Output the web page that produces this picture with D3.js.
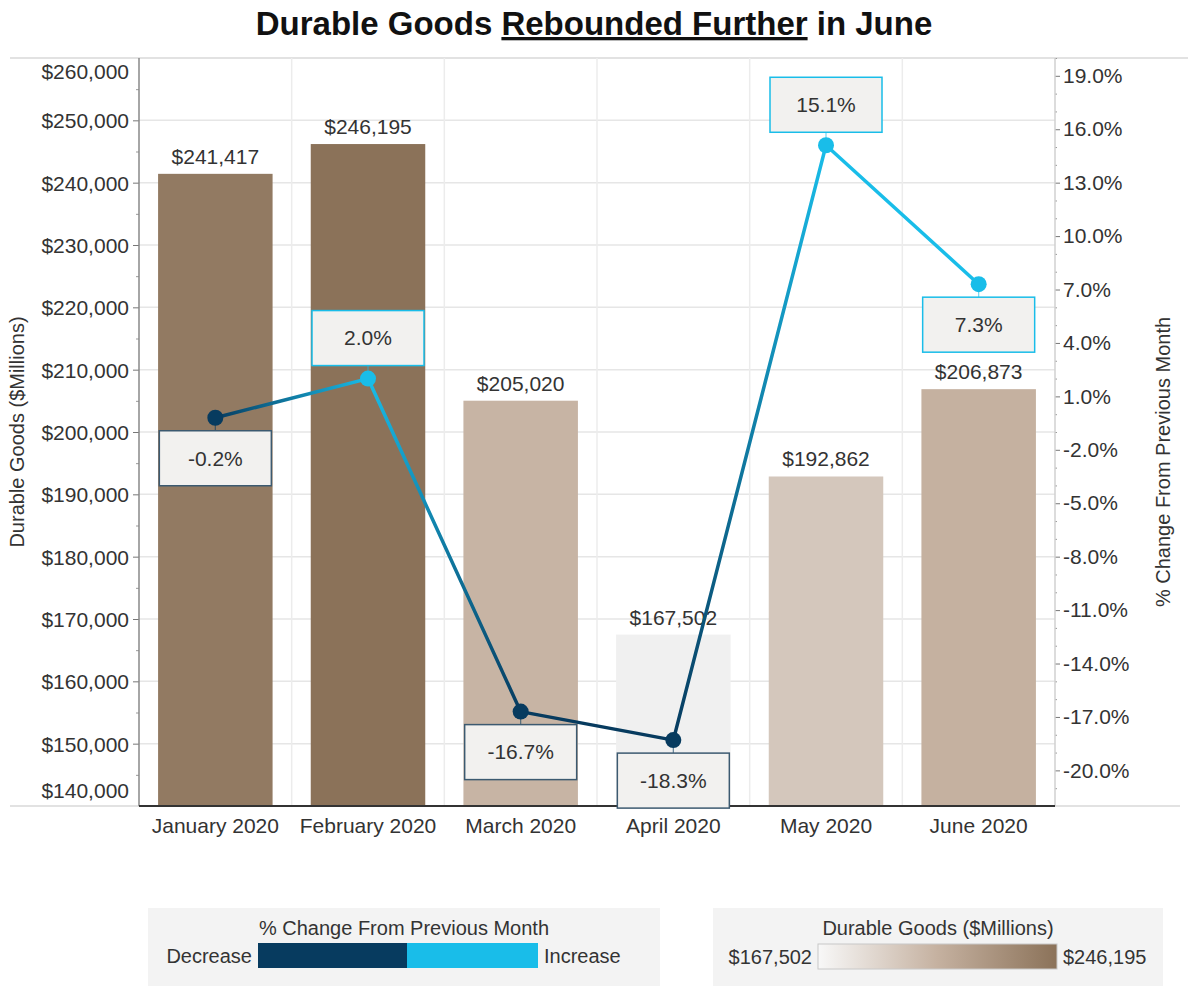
<!DOCTYPE html>
<html>
<head>
<meta charset="utf-8">
<script src="https://cdn.jsdelivr.net/npm/d3@7"></script>
<style>
  body { margin: 0; background: #fff; }
  svg { display: block; font-family: "Liberation Sans", Arial, sans-serif; }
  .tick text { fill: #333; font-size: 21px; }
</style>
</head>
<body>
<svg id="chart" width="1188" height="986"></svg>
<script>
// data
const months = ["January 2020", "February 2020", "March 2020", "April 2020", "May 2020", "June 2020"];
const goods = [241417, 246195, 205020, 167502, 192862, 206873];
const pctChange = [-0.2, 2.0, -16.7, -18.3, 15.1, 7.3];
const labelBelow = [true, false, true, true, false, true];
const leftTicks = d3.range(140000, 260001, 10000);
const rightTicks = d3.range(-20, 20, 3);

const svg = d3.select("#chart");
const pLeft = 139, pRight = 1055, pTop = 58, pBottom = 806;
const decColor = "#073b5f", incColor = "#19bde9";
const font = 21;

const x = d3.scaleBand().domain(months).range([pLeft, pRight]).paddingInner(0.25).paddingOuter(0.125);
const yL = d3.scaleLinear().domain([140000, 260000]).range([pBottom, pTop]);
const yR = d3.scaleLinear().domain([-22, 20]).range([pBottom, pTop]);
const gMin = d3.min(goods), gMax = d3.max(goods);
const color = d3.scaleLinear()
    .domain([gMin, (gMin + gMax) / 2, gMax])
    .range(["#f0f0f0", "#c5b1a0", "#8b7259"]);
const ptColor = v => v < 0 ? decColor : incColor;
const cx = i => x(months[i]) + x.bandwidth() / 2;

// title
const title = svg.append("text")
    .attr("x", 594).attr("y", 35)
    .attr("text-anchor", "middle")
    .style("font-size", "33px").style("font-weight", "bold").attr("fill", "#111");
title.append("tspan").text("Durable Goods ");
title.append("tspan").text("Rebounded Further").style("text-decoration", "underline");
title.append("tspan").text(" in June");

// frame lines
svg.append("line").attr("x1", 10).attr("x2", 1188).attr("y1", pTop).attr("y2", pTop)
    .attr("stroke", "#e2e2e2").attr("stroke-width", 2);
svg.append("line").attr("x1", 10).attr("x2", 1180).attr("y1", pBottom).attr("y2", pBottom)
    .attr("stroke", "#d8d8d8").attr("stroke-width", 1.5);

// gridlines
svg.append("g").selectAll("line").data(leftTicks.slice(1, -1)).join("line")
    .attr("x1", pLeft).attr("x2", pRight)
    .attr("y1", d => yL(d)).attr("y2", d => yL(d))
    .attr("stroke", "#e6e6e6").attr("stroke-width", 1.5);
svg.append("g").selectAll("line").data(months.slice(1)).join("line")
    .attr("x1", d => x(d) - x.step() * x.paddingInner() / 2)
    .attr("x2", d => x(d) - x.step() * x.paddingInner() / 2)
    .attr("y1", pTop).attr("y2", pBottom)
    .attr("stroke", "#ececec").attr("stroke-width", 1.5);

// bars
svg.append("g").selectAll("rect").data(goods).join("rect")
    .attr("x", (d, i) => x(months[i]))
    .attr("width", x.bandwidth())
    .attr("y", d => yL(d))
    .attr("height", d => pBottom - yL(d))
    .attr("fill", d => color(d));

svg.append("g").selectAll("text").data(goods).join("text")
    .attr("x", (d, i) => cx(i))
    .attr("y", d => yL(d) - 10)
    .attr("text-anchor", "middle")
    .style("font-size", font + "px").attr("fill", "#333")
    .text(d => "$" + d3.format(",")(d));

// left axis
const axL = svg.append("g").attr("transform", `translate(${pLeft},0)`)
    .call(d3.axisLeft(yL).tickValues(leftTicks).tickFormat(d => "$" + d3.format(",")(d)).tickSize(6).tickPadding(4));
axL.select(".domain").remove();
axL.selectAll(".tick line").attr("stroke", "#777");
axL.selectAll(".tick text").attr("dy", "0.35em");
axL.selectAll(".tick").filter(d => d === 260000).select("text").attr("y", 13);
axL.selectAll(".tick").filter(d => d === 260000 || d === 140000).select("line").remove();
axL.selectAll(".tick").filter(d => d === 140000).select("text").attr("y", -16);
svg.append("g").attr("transform", `translate(${pLeft},0)`)
    .call(d3.axisLeft(yL).tickValues(d3.range(145000, 260000, 10000)).tickFormat("").tickSize(3))
    .call(g => g.select(".domain").remove())
    .selectAll("line").attr("stroke", "#999");
svg.append("line").attr("x1", pLeft).attr("x2", pLeft).attr("y1", pTop).attr("y2", pBottom)
    .attr("stroke", "#888").attr("stroke-width", 1.5);

// right axis
const axR = svg.append("g").attr("transform", `translate(${pRight},0)`)
    .call(d3.axisRight(yR).tickValues(rightTicks).tickFormat(d => d.toFixed(1) + "%").tickSize(5).tickPadding(3));
axR.select(".domain").remove();
axR.selectAll(".tick line").attr("stroke", "#777");
svg.append("g").attr("transform", `translate(${pRight},0)`)
    .call(d3.axisRight(yR).tickValues(d3.range(-21, 21).filter(v => !rightTicks.includes(v))).tickFormat("").tickSize(2))
    .call(g => g.select(".domain").remove())
    .selectAll("line").attr("stroke", "#999");
svg.append("line").attr("x1", pRight).attr("x2", pRight).attr("y1", pTop).attr("y2", pBottom)
    .attr("stroke", "#d0d0d0").attr("stroke-width", 1.5);

// bottom axis
svg.append("line").attr("x1", pLeft).attr("x2", pRight).attr("y1", pBottom).attr("y2", pBottom)
    .attr("stroke", "#333").attr("stroke-width", 2);
const axB = svg.append("g").attr("transform", `translate(0,${pBottom})`)
    .call(d3.axisBottom(x).tickSize(0).tickPadding(12));
axB.select(".domain").remove();
axB.selectAll(".tick text").attr("dy", "0.71em");

// axis titles
svg.append("text").attr("transform", "translate(24,432) rotate(-90)")
    .attr("text-anchor", "middle").style("font-size", "20px").attr("fill", "#333")
    .text("Durable Goods ($Millions)");
svg.append("text").attr("transform", "translate(1170,462) rotate(-90)")
    .attr("text-anchor", "middle").style("font-size", "20px").attr("fill", "#333")
    .text("% Change From Previous Month");

// % change line with per-segment gradients
const defs = svg.append("defs");
const segs = d3.range(pctChange.length - 1);
segs.forEach(i => {
    const gr = defs.append("linearGradient").attr("id", "seg" + i)
        .attr("gradientUnits", "userSpaceOnUse")
        .attr("x1", cx(i)).attr("y1", yR(pctChange[i]))
        .attr("x2", cx(i + 1)).attr("y2", yR(pctChange[i + 1]));
    gr.append("stop").attr("offset", "0%").attr("stop-color", ptColor(pctChange[i]));
    gr.append("stop").attr("offset", "100%").attr("stop-color", ptColor(pctChange[i + 1]));
});
svg.append("g").selectAll("line").data(segs).join("line")
    .attr("x1", i => cx(i)).attr("y1", i => yR(pctChange[i]))
    .attr("x2", i => cx(i + 1)).attr("y2", i => yR(pctChange[i + 1]))
    .attr("stroke", i => `url(#seg${i})`).attr("stroke-width", 3.5).attr("stroke-linecap", "round");

// labels
const boxW = 112, boxH = 55, gap = 13;
const boxTop = i => labelBelow[i] ? yR(pctChange[i]) + gap : yR(pctChange[i]) - gap - boxH;
svg.append("g").selectAll("line").data(pctChange).join("line")
    .attr("x1", (d, i) => cx(i)).attr("x2", (d, i) => cx(i))
    .attr("y1", d => yR(d))
    .attr("y2", (d, i) => labelBelow[i] ? boxTop(i) : boxTop(i) + boxH)
    .attr("stroke", d => ptColor(d)).attr("stroke-width", 1.2).attr("opacity", 0.6);

svg.append("g").selectAll("circle").data(pctChange).join("circle")
    .attr("cx", (d, i) => cx(i)).attr("cy", d => yR(d)).attr("r", 8)
    .attr("fill", d => ptColor(d));

const boxes = svg.append("g").selectAll("g").data(pctChange).join("g")
    .attr("transform", (d, i) => `translate(${cx(i) - boxW / 2},${boxTop(i)})`);
boxes.append("rect").attr("width", boxW).attr("height", boxH)
    .attr("fill", "#f2f1ef").attr("stroke", d => d < 0 ? "#3c5a70" : incColor).attr("stroke-width", 1.5);
boxes.append("text").attr("x", boxW / 2).attr("y", boxH / 2).attr("dy", "0.35em")
    .attr("text-anchor", "middle").style("font-size", font + "px").attr("fill", "#333")
    .text(d => d.toFixed(1) + "%");

// legends
const leg1 = svg.append("g");
leg1.append("rect").attr("x", 148).attr("y", 908).attr("width", 512).attr("height", 78).attr("fill", "#f3f3f3");
leg1.append("text").attr("x", 404).attr("y", 935).attr("text-anchor", "middle")
    .style("font-size", "20px").attr("fill", "#333").text("% Change From Previous Month");
leg1.append("rect").attr("x", 258).attr("y", 943).attr("width", 149).attr("height", 25).attr("fill", decColor);
leg1.append("rect").attr("x", 407).attr("y", 943).attr("width", 131).attr("height", 25).attr("fill", incColor);
leg1.append("text").attr("x", 252).attr("y", 963).attr("text-anchor", "end")
    .style("font-size", "20px").attr("fill", "#333").text("Decrease");
leg1.append("text").attr("x", 544).attr("y", 963)
    .style("font-size", "20px").attr("fill", "#333").text("Increase");

const lg = defs.append("linearGradient").attr("id", "goodsGrad");
lg.append("stop").attr("offset", "0%").attr("stop-color", "#f8f8f8");
lg.append("stop").attr("offset", "50%").attr("stop-color", color((gMin + gMax) / 2));
lg.append("stop").attr("offset", "100%").attr("stop-color", color(gMax));
const leg2 = svg.append("g");
leg2.append("rect").attr("x", 713).attr("y", 908).attr("width", 450).attr("height", 78).attr("fill", "#f3f3f3");
leg2.append("text").attr("x", 938).attr("y", 935).attr("text-anchor", "middle")
    .style("font-size", "20px").attr("fill", "#333").text("Durable Goods ($Millions)");
leg2.append("rect").attr("x", 818).attr("y", 944).attr("width", 239).attr("height", 25)
    .attr("fill", "url(#goodsGrad)").attr("stroke", "#c8c8c8");
leg2.append("text").attr("x", 812).attr("y", 964).attr("text-anchor", "end")
    .style("font-size", "20px").attr("fill", "#333").text("$" + d3.format(",")(gMin));
leg2.append("text").attr("x", 1063).attr("y", 964)
    .style("font-size", "20px").attr("fill", "#333").text("$" + d3.format(",")(gMax));
</script>
</body>
</html>
